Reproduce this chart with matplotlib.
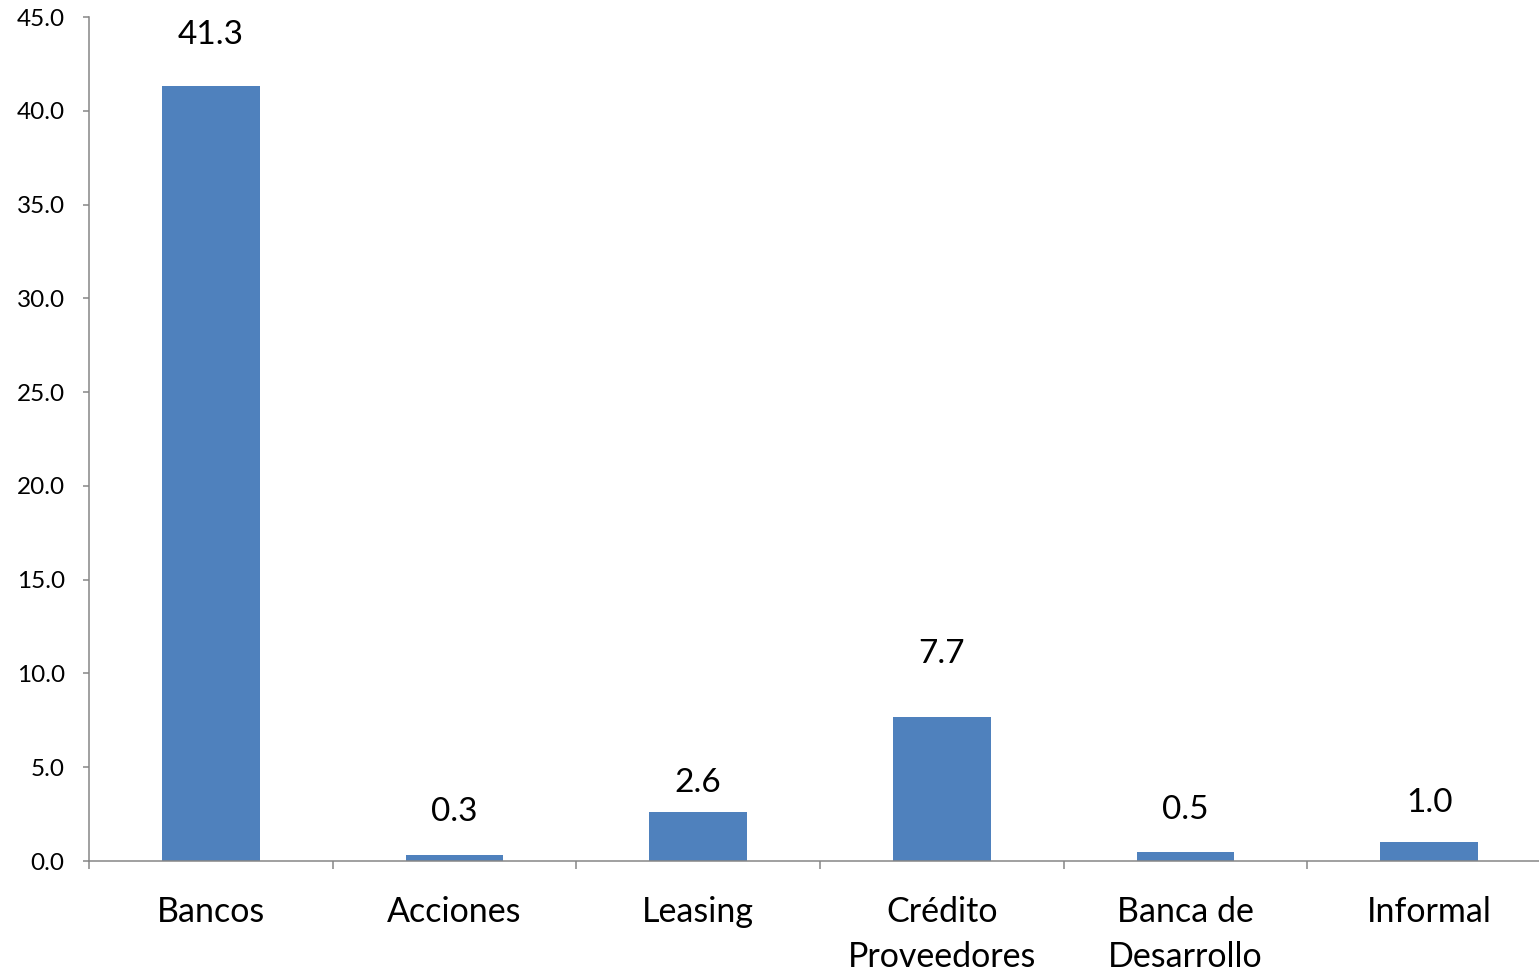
import matplotlib.pyplot as plt
import numpy as np
from matplotlib.ticker import FixedLocator, FormatStrFormatter

plt.rcParams['font.family'] = ['Lato', 'DejaVu Sans']

categories = ['Bancos', 'Acciones', 'Leasing', 'Crédito\nProveedores', 'Banca de\nDesarrollo', 'Informal']
values = [41.3, 0.3, 2.6, 7.7, 0.5, 1.0]

BAR_COLOR = '#4F81BD'
AXIS_COLOR = '#868686'
# label offsets above each bar (points), as placed in the original
label_offsets = [37, 31, 21, 45, 30, 28]

fig = plt.figure(figsize=(15.39, 9.73), dpi=100, facecolor='w')
ax = fig.add_axes([89 / 1539, 112 / 973, 1462 / 1539, 844 / 973])

x = np.arange(len(categories))
bars = ax.bar(x, values, width=0.4, color=BAR_COLOR, zorder=2)

for rect, v, off in zip(bars, values, label_offsets):
    ax.annotate(f'{v:.1f}', (rect.get_x() + rect.get_width() / 2, v),
                xytext=(0, off), textcoords='offset points',
                ha='center', va='center', fontsize=24)

ax.set_xlim(-0.5, len(categories) - 0.5)
ax.set_ylim(0, 45)
ax.set_yticks(np.arange(0, 46, 5))
ax.yaxis.set_major_formatter(FormatStrFormatter('%.1f'))

ax.set_xticks(x)
ax.set_xticklabels(categories, fontsize=24.5, linespacing=1.5)
ax.xaxis.set_minor_locator(FixedLocator(np.arange(-0.5, len(categories), 1.0)))
ax.tick_params(axis='x', which='major', length=0, pad=25.5)
ax.tick_params(axis='x', which='minor', length=6, width=1.1, color=AXIS_COLOR)
ax.tick_params(axis='y', length=4.5, width=1.1, color=AXIS_COLOR, labelsize=17.5, pad=13)

for side in ['top', 'right']:
    ax.spines[side].set_visible(False)
for side in ['left', 'bottom']:
    ax.spines[side].set_color(AXIS_COLOR)
    ax.spines[side].set_linewidth(1.1)

fig.savefig('out.png', dpi=100)
